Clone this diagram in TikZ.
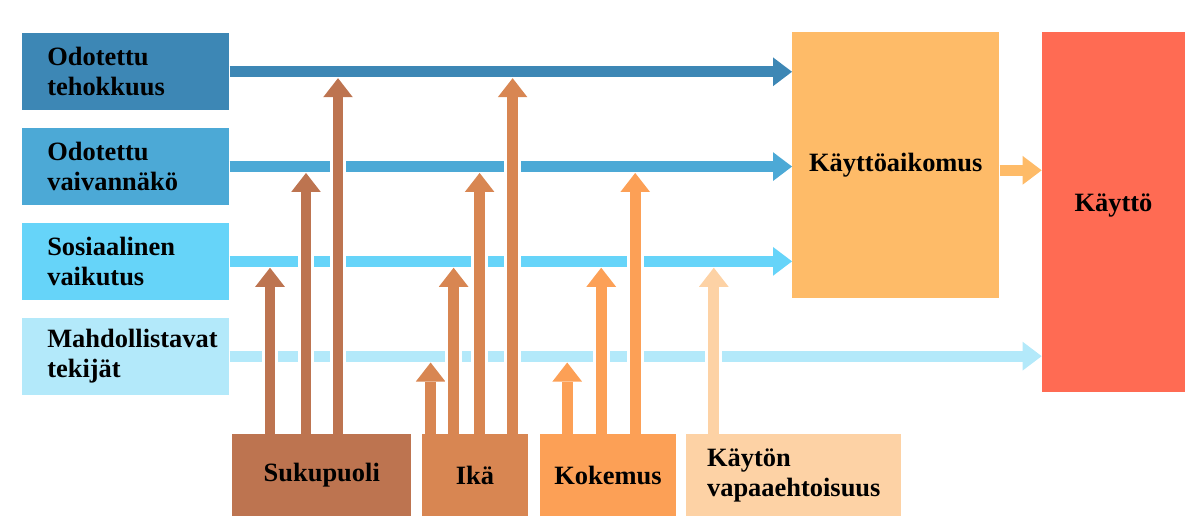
\documentclass[tikz,border=0pt]{standalone}
\usepackage{fontspec}
\setmainfont{Liberation Serif}
\usepackage{xcolor}
\definecolor{utautA}{HTML}{3D87B5}
\definecolor{utautB}{HTML}{4CA9D6}
\definecolor{utautC}{HTML}{66D4F9}
\definecolor{utautD}{HTML}{B3E9FA}
\definecolor{utautIntent}{HTML}{FEBB68}
\definecolor{utautUse}{HTML}{FF6B53}
\definecolor{modGender}{HTML}{BD7450}
\definecolor{modAge}{HTML}{D88652}
\definecolor{modExp}{HTML}{FCA056}
\definecolor{modVol}{HTML}{FDD2A5}
\usepackage{tikz}
\usetikzlibrary{arrows.meta,positioning}
\tikzset{
    factor/.style={
        rectangle,
        draw=none,
        fill=#1,
        minimum height=1.925cm,
        text width=3.925cm,
        inner xsep=0.625cm,
        inner ysep=0pt,
        align=left,
        font=\bfseries\fontsize{18.8}{21.4}\selectfont
    },
    moderator/.style={
        rectangle,
        draw=none,
        fill=#1,
        minimum height=2.05cm,
        inner sep=0pt,
        align=center,
        font=\bfseries\fontsize{18.8}{21.4}\selectfont
    },
    outcome/.style={
        rectangle,
        draw=none,
        fill=#1,
        inner sep=0pt,
        align=center,
        font=\bfseries\fontsize{18.8}{21.4}\selectfont
    },
    harrow/.style={
        draw=#1,
        line width=0.27cm,
        -{Triangle[length=0.475cm,width=0.72cm,line width=0pt]}
    },
    varrow/.style={
        draw=#1,
        line width=0.27cm,
        -{Triangle[length=0.475cm,width=0.74cm,line width=0pt]},
        shorten >=0.16cm,
        preaction={draw=white,line width=0.42cm,-}
    }
}

\begin{document}
\begin{tikzpicture}[x=0.025cm,y=0.025cm]
    \useasboundingbox (0,0) rectangle (1200,530);

    % Determinants
    \node[factor=utautA, anchor=north west] (odo1) at (22,497) {Odotettu\\tehokkuus};
    \node[factor=utautB, below=0.43cm of odo1] (odo2) {Odotettu\\vaivannäkö};
    \node[factor=utautC, below=0.43cm of odo2] (odo3) {Sosiaalinen\\vaikutus};
    \node[factor=utautD, below=0.43cm of odo3] (odo4) {Mahdollistavat\\tekijät};

    % Intention and use
    \node[outcome=utautIntent, minimum width=5.175cm, minimum height=6.65cm, anchor=north west]
        (aikomus) at (792,498) {Käyttöaikomus};
    \node[outcome=utautUse, minimum width=3.575cm, minimum height=9cm, text depth=0.5cm,
        right=1.05cm of aikomus.north east, anchor=north west] (kaytto) {Käyttö};

    % Moderators
    \node[moderator=modGender, minimum width=4.475cm, anchor=north west] (suku) at (232,96) {Sukupuoli};
    \node[moderator=modAge, minimum width=2.65cm, right=0.25cm of suku] (ika) {Ikä};
    \node[moderator=modExp, minimum width=3.375cm, right=0.3cm of ika] (kokemus) {Kokemus};
    \node[moderator=modVol, text width=4.325cm, inner xsep=0.525cm, align=left,
        right=0.25cm of kokemus] (vapaa) {Käytön\\vapaaehtoisuus};

    % Arrows
    \draw[harrow=utautA] (odo1.east) -- (odo1.east -| aikomus.west);
    \draw[harrow=utautB] (odo2.east) -- (odo2.east -| aikomus.west);
    \draw[harrow=utautC] (odo3.east) -- (odo3.east -| aikomus.west);
    \draw[harrow=utautD] (odo4.east) -- (odo4.east -| kaytto.west);
    \draw[harrow=utautIntent] ([yshift=-0.125cm]aikomus.east) -- ([yshift=-0.125cm]aikomus.east -| kaytto.west);

    \foreach \dx/\row in {38/odo3,74/odo2,106/odo1}
        \draw[varrow=modGender] ([xshift=\dx*0.025cm]suku.north west) -- ([xshift=\dx*0.025cm]suku.north west |- \row.east);
    \foreach \dx/\row in {9/odo4,32/odo3,58/odo2,91/odo1}
        \draw[varrow=modAge] ([xshift=\dx*0.025cm]ika.north west) -- ([xshift=\dx*0.025cm]ika.north west |- \row.east);
    \foreach \dx/\row in {27/odo4,61/odo3,95/odo2}
        \draw[varrow=modExp] ([xshift=\dx*0.025cm]kokemus.north west) -- ([xshift=\dx*0.025cm]kokemus.north west |- \row.east);
    \draw[varrow=modVol] ([xshift=28*0.025cm]vapaa.north west) -- ([xshift=28*0.025cm]vapaa.north west |- odo3.east);
\end{tikzpicture}
\end{document}
